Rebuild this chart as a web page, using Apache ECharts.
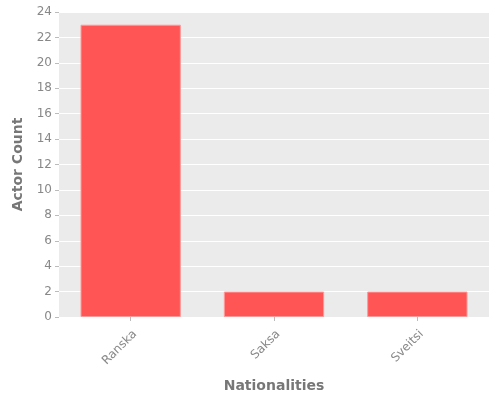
<!DOCTYPE html>
<html><head><meta charset="utf-8">
<script src="https://cdn.jsdelivr.net/npm/echarts@6/dist/echarts.min.js"></script>
<style>html,body{margin:0;padding:0;background:#fff}#c{width:500px;height:400px}</style>
</head><body><div id="c"></div>
<script>
const categories = ["Ranska", "Saksa", "Sveitsi"];
const actorCounts = [23, 2, 2];
const yTicks = {min: 0, max: 24, interval: 2};

const chart = echarts.init(document.getElementById('c'), null, {renderer: 'canvas'});
const font = 'DejaVu Sans';
chart.setOption({
  animation: false,
  textStyle: {fontFamily: font},
  grid: {left: 59, right: 11, top: 12, bottom: 83, show: true, backgroundColor: '#EBEBEB', borderWidth: 0},
  xAxis: {
    type: 'category',
    data: categories,
    name: 'Nationalities',
    nameLocation: 'middle',
    nameGap: 62,
    nameTextStyle: {fontFamily: font, fontSize: 14, fontWeight: 'bold', color: '#777'},
    axisLine: {show: false},
    axisTick: {show: true, alignWithLabel: true, length: 4, lineStyle: {color: '#bbb'}},
    axisLabel: {rotate: 45, color: '#888', fontFamily: font, fontSize: 12, margin: 11, verticalAlign: 'top'},
    splitLine: {show: false}
  },
  yAxis: {
    type: 'value',
    min: yTicks.min, max: yTicks.max, interval: yTicks.interval,
    name: 'Actor Count',
    nameLocation: 'middle',
    nameGap: 34,
    nameTextStyle: {fontFamily: font, fontSize: 14, fontWeight: 'bold', color: '#777'},
    axisLine: {show: false},
    axisTick: {show: true, length: 4, lineStyle: {color: '#bbb'}},
    axisLabel: {color: '#888', fontFamily: font, fontSize: 12, margin: 7},
    splitLine: {show: true, lineStyle: {color: '#fff', width: 1}}
  },
  series: [{
    type: 'bar',
    data: actorCounts,
    barWidth: '70%',
    itemStyle: {color: '#FF5555', borderColor: '#FF9999', borderWidth: 1}
  }]
});
</script></body></html>
